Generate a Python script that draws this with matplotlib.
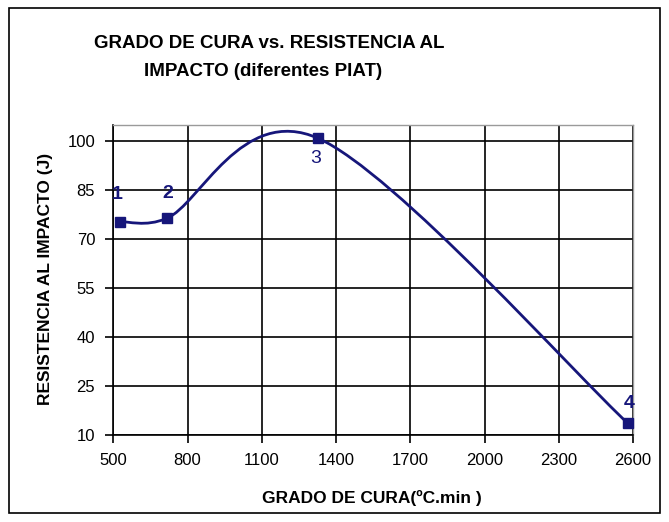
import matplotlib
matplotlib.use("Agg")
import matplotlib.pyplot as plt
import numpy as np
from matplotlib.path import Path
from matplotlib.patches import PathPatch, Rectangle

plt.rcParams['font.family'] = ['Liberation Sans', 'DejaVu Sans']

# data
grado_cura = [527, 716, 1328, 2579]
resistencia = [75.3, 76.3, 100.8, 13.6]
etiquetas = ['1', '2', '3', '4']
x_ticks = [500, 800, 1100, 1400, 1700, 2000, 2300, 2600]
y_ticks = [10, 25, 40, 55, 70, 85, 100]

navy = '#16167a'

fig = plt.figure(figsize=(6.69, 5.22), dpi=100)
fig.patch.set_facecolor('white')

# outer chart border
fig.patches.append(Rectangle((9 / 669, 9 / 522), 651 / 669, 505 / 522,
                             transform=fig.transFigure, fill=False,
                             edgecolor='black', lw=1.2))

ax = fig.add_axes([113.3 / 669, 1 - 435 / 522, (633 - 113.3) / 669,
                   (435 - 124.6) / 522])
ax.set_xlim(500, 2600)
ax.set_ylim(10, 105)
ax.set_xticks(x_ticks)
ax.set_yticks(y_ticks)
ax.grid(True, color='black', lw=1.2)
ax.set_axisbelow(True)

for s in ['left', 'bottom']:
    ax.spines[s].set_color('black')
    ax.spines[s].set_linewidth(1.2)
for s in ['top', 'right']:
    ax.spines[s].set_color('#9a9a9a')
    ax.spines[s].set_linewidth(1.0)

ax.tick_params(axis='both', length=6, width=1.2, color='black',
               labelsize=12, pad=7)

# smoothed line, Excel-like bezier built in screen space
# (tension 1/6, control arm limited to half of the segment)
pts = ax.transData.transform(np.column_stack([grado_cura, resistencia]))
n = len(pts)
verts = [pts[0]]
codes = [Path.MOVETO]
for i in range(n - 1):
    p0 = pts[max(i - 1, 0)]
    p1 = pts[i]
    p2 = pts[i + 1]
    p3 = pts[min(i + 2, n - 1)]
    l12 = np.hypot(*(p2 - p1))
    d02 = np.hypot(*(p2 - p0))
    d13 = np.hypot(*(p3 - p1))
    f1 = 1 / 6 if d02 / 6 <= l12 / 2 else (l12 / 2) / d02
    f2 = 1 / 6 if d13 / 6 <= l12 / 2 else (l12 / 2) / d13
    c1 = p1 + (p2 - p0) * f1
    c2 = p2 - (p3 - p1) * f2
    verts += [c1, c2, p2]
    codes += [Path.CURVE4] * 3
verts = ax.transData.inverted().transform(np.array(verts))
ax.add_patch(PathPatch(Path(verts, codes), fill=False, edgecolor=navy,
                       lw=2.0, zorder=3, clip_on=False))
ax.plot(grado_cura, resistencia, linestyle='none', marker='s',
        markersize=6.5, color=navy, zorder=4, clip_on=False)

offsets = [(-3, 27), (1, 25), (-3, -20), (1, 20)]
weights = ['bold', 'bold', 'normal', 'bold']
for x, y, lab, off, w in zip(grado_cura, resistencia, etiquetas, offsets,
                             weights):
    ax.annotate(lab, (x, y), xytext=off, textcoords='offset pixels',
                ha='center', va='center', fontsize=14, fontweight=w,
                color=navy, zorder=5)

ax.set_xlabel('GRADO DE CURA(ºC.min )', fontsize=12.5, fontweight='bold')
ax.set_ylabel('RESISTENCIA AL IMPACTO (J)', fontsize=12.5, fontweight='bold')
ax.xaxis.label.set_va('center')
ax.yaxis.label.set_va('center')
ax.xaxis.set_label_coords(0.498, -(498 - 435) / 310.4)
ax.yaxis.set_label_coords(-(113.3 - 46) / 519.7, (435 - 279) / 310.4)

fig.text(269 / 669, 1 - 43 / 522, 'GRADO DE CURA vs. RESISTENCIA AL',
         ha='center', va='center', fontsize=13.5, fontweight='bold')
fig.text(263 / 669, 1 - 72 / 522, 'IMPACTO (diferentes PIAT)',
         ha='center', va='center', fontsize=13.5, fontweight='bold')

fig.savefig('out.png', dpi=100)
